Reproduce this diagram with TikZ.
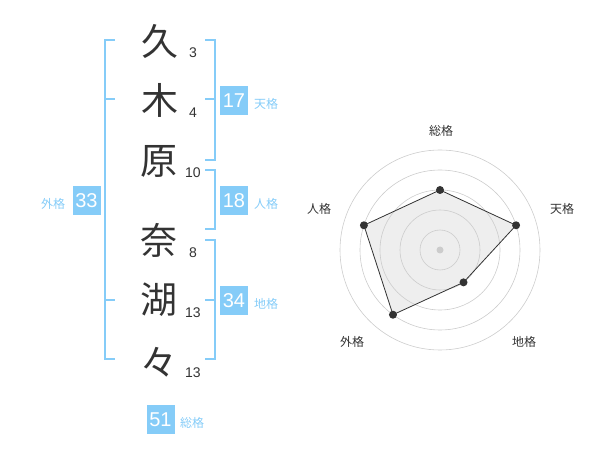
\documentclass[tikz,border=0pt]{standalone}
\usepackage{fontspec}
\setmainfont{Liberation Sans}
\newfontfamily\jpfont{Noto Sans CJK JP}
\usepackage{tikz}
\usetikzlibrary{positioning}
\definecolor{kakublue}{HTML}{85CCF8}
\definecolor{inkgray}{HTML}{333333}
\definecolor{ringgray}{HTML}{CCCCCC}
\definecolor{areagray}{HTML}{EEEEEE}

\begin{document}
\begin{tikzpicture}[x=1pt, y=-1pt,
    kanji/.style={text=inkgray, font=\jpfont\fontsize{37}{37}\selectfont, inner sep=0pt},
    strokes/.style={text=inkgray, font=\fontsize{14}{14}\selectfont, inner sep=0pt},
    kakubox/.style={fill=kakublue, text=white, minimum width=28pt, minimum height=29pt, inner sep=0pt, font=\fontsize{20}{20}\selectfont},
    kakulabel/.style={text=kakublue, font=\jpfont\fontsize{12}{12}\selectfont, inner sep=0pt},
    bracket/.style={draw=kakublue, line width=2pt},
    axislabel/.style={text=inkgray, font=\jpfont\fontsize{12}{12}\selectfont, inner sep=0pt},
    ring/.style={draw=ringgray, line width=0.6pt},
    dot/.style={circle, fill=inkgray, inner sep=0pt, minimum size=8pt}]
    \useasboundingbox (0,0) rectangle (600,470);
    % name
    \node[kanji] (k1) at (160,41) {久};
    \node[kanji] (k2) at (160,100) {木};
    \node[kanji] (k3) at (159,161) {原};
    \node[kanji] (k4) at (159,240) {奈};
    \node[kanji] (k5) at (159,300) {湖};
    \node[kanji] (k6) at (159,362) {々};
    \node[strokes] (s1) at (193,53) {3};
    \node[strokes] (s2) at (193,113) {4};
    \node[strokes] (s3) at (193,173) {10};
    \node[strokes] (s4) at (193,253) {8};
    \node[strokes] (s5) at (193,313) {13};
    \node[strokes] (s6) at (193,373) {13};
    % brackets
    \draw[bracket] (115,40) -- (105,40) -- (105,359) -- (115,359);
    \draw[bracket] (105,99) -- (115,99);
    \draw[bracket] (105,300) -- (115,300);
    \draw[bracket] (205,40) -- (215,40) -- (215,160) -- (205,160);
    \draw[bracket] (205,99) -- (215,99);
    \draw[bracket] (205,170) -- (215,170) -- (215,229) -- (205,229);
    \draw[bracket] (205,240) -- (215,240) -- (215,359) -- (205,359);
    \draw[bracket] (205,300) -- (215,300);
    % scores
    \node[kakubox] (ten) at (234,100.5) {17};
    \node[kakubox] (jin) at (234,200.5) {18};
    \node[kakubox] (chi) at (234,300.5) {34};
    \node[kakubox] (gai) at (86.5,200.5) {33};
    \node[kakubox] (sou) at (160.5,419.5) {51};
    \node[kakulabel] (tenl) at (266,104) {天格};
    \node[kakulabel] (jinl) at (266,204) {人格};
    \node[kakulabel] (chil) at (266,304) {地格};
    \node[kakulabel] (gail) at (53,204) {外格};
    \node[kakulabel] (soul) at (192,423) {総格};
    % radar
    \coordinate (ctr) at (440,250);
    \path (ctr) ++(-90:60) coordinate (rsou);
    \path (ctr) ++(-18:80) coordinate (rten);
    \path (ctr) ++(54:40) coordinate (rchi);
    \path (ctr) ++(126:80) coordinate (rgai);
    \path (ctr) ++(198:80) coordinate (rjin);
    \fill[areagray] (rsou) -- (rten) -- (rchi) -- (rgai) -- (rjin) -- cycle;
    \foreach \r in {20,40,...,100}
        \draw[ring] (ctr) circle (\r);
    \node[circle, fill=ringgray, inner sep=0pt, minimum size=7pt] (hub) at (ctr) {};
    \node[dot] (dsou) at (rsou) {};
    \node[dot] (dten) at (rten) {};
    \node[dot] (dchi) at (rchi) {};
    \node[dot] (dgai) at (rgai) {};
    \node[dot] (djin) at (rjin) {};
    \draw[inkgray, line width=0.8pt] (dsou.center) -- (dten.center) -- (dchi.center) -- (dgai.center) -- (djin.center) -- cycle;
    \node[axislabel] (asou) at (441,131) {総格};
    \node[axislabel] (aten) at (562,209) {天格};
    \node[axislabel] (achi) at (524,342) {地格};
    \node[axislabel] (agai) at (352,342) {外格};
    \node[axislabel] (ajin) at (319,209) {人格};
\end{tikzpicture}
\end{document}
